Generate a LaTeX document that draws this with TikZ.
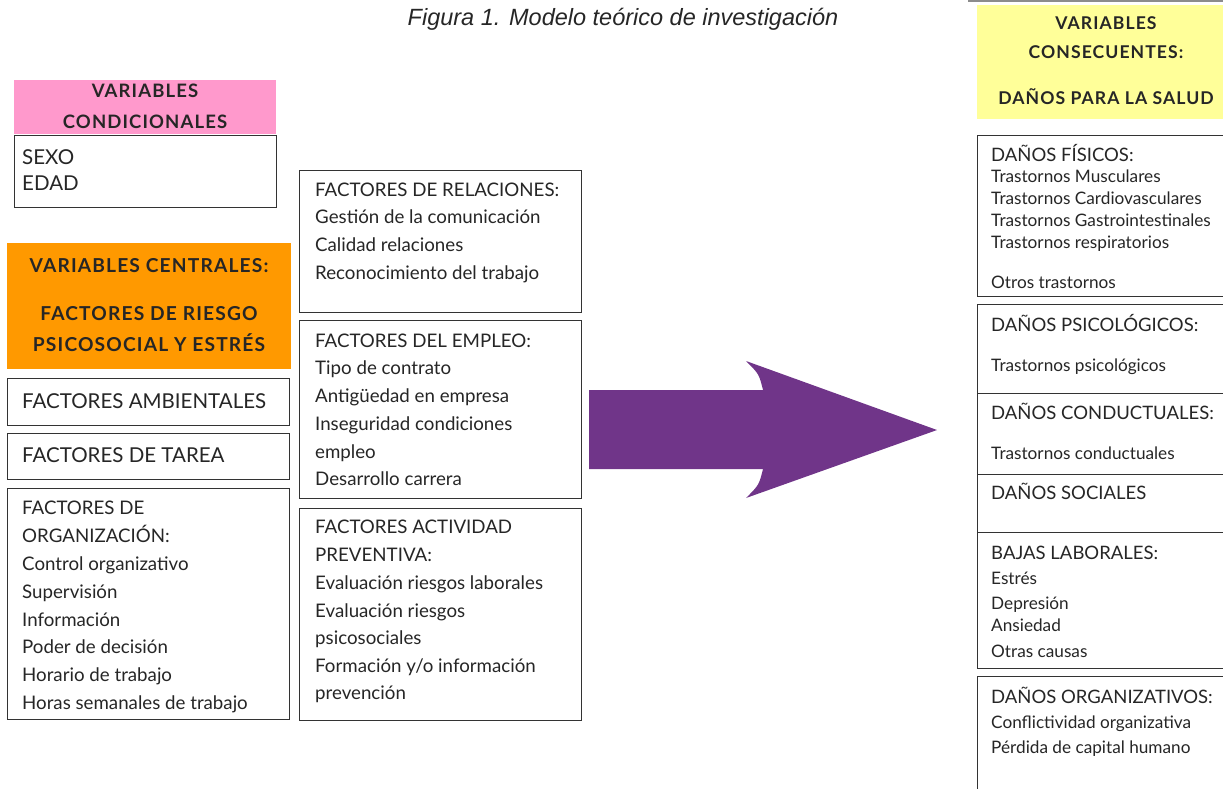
\documentclass[tikz,border=0pt]{standalone}
\usepackage{fontspec}
\setmainfont{Lato}
\newfontfamily\titlefont{Liberation Sans}
\newfontfamily\headfont[LetterSpace=6]{Lato}
\definecolor{boxline}{HTML}{333333}
\definecolor{pinkhead}{HTML}{FF99CC}
\definecolor{orangehead}{HTML}{FF9900}
\definecolor{yellowhead}{HTML}{FFFF99}
\definecolor{arrowpurple}{HTML}{703589}
\tikzset{
  frame/.style={draw=boxline, line width=1.2pt, fill=white, anchor=north west, inner sep=0pt},
  head/.style={anchor=north west, inner sep=0pt, draw=none},
  txt/.style={anchor=base west, inner sep=0pt, font=\fontsize{18.7}{22}\selectfont, text=black!85},
  bigtxt/.style={anchor=base west, inner sep=0pt, font=\fontsize{20.5}{24}\selectfont, text=black!85},
  smalltxt/.style={anchor=base west, inner sep=0pt, font=\fontsize{17.2}{20}\selectfont, text=black!85},
  smallcap/.style={anchor=base west, inner sep=0pt, font=\fontsize{18.5}{22}\selectfont, text=black!85},
  headtxt/.style={anchor=base, inner sep=0pt, font=\headfont\bfseries\fontsize{#1}{21}\selectfont, text=black!85},
  headtxt/.default=18.5,
}
\begin{document}
\begin{tikzpicture}[x=1pt,y=-1pt]
\useasboundingbox (0,0) rectangle (1223,788);
\clip (0,0) rectangle (1223,788);

% title
\node[anchor=base, inner sep=0pt, font=\titlefont\itshape\fontsize{23.5}{27}\selectfont, text=black!85] (title) at (623,25) {Figura 1. Modelo teórico de investigación};

% ---------------- left column ----------------
\node[head, fill=pinkhead, minimum width=262pt, minimum height=54pt] (condhead) at (14,80) {};
\node[headtxt] (condh1) at (145,97) {VARIABLES};
\node[headtxt] (condh2) at (145,128) {CONDICIONALES};
\node[frame, minimum width=262pt, minimum height=72pt] (condbox) at (14,135) {};
\node[bigtxt] (sexo) at (22,164) {SEXO};
\node[bigtxt] (edad) at (22,190) {EDAD};

\node[head, fill=orangehead, minimum width=284pt, minimum height=126pt] (centhead) at (7,243) {};
\node[headtxt=19.2] (centh1) at (149,272) {VARIABLES CENTRALES:};
\node[headtxt=19.2] (centh2) at (149,320) {FACTORES DE RIESGO};
\node[headtxt=19.2] (centh3) at (149,351) {PSICOSOCIAL Y ESTRÉS};

\node[frame, minimum width=282pt, minimum height=47pt] (ambbox) at (7,378) {};
\node[bigtxt] (amb) at (22,408) {FACTORES AMBIENTALES};
\node[frame, minimum width=282pt, minimum height=46pt] (tarbox) at (7,433) {};
\node[bigtxt] (tar) at (22,462) {FACTORES DE TAREA};

\node[frame, minimum width=282pt, minimum height=231pt] (orgbox) at (7,488) {};
\foreach \t/\y [count=\i] in {FACTORES DE/514, ORGANIZACIÓN:/542, Control organizativo/570,
  Supervisión/598, Información/626, Poder de decisión/653, Horario de trabajo/681,
  Horas semanales de trabajo/709}
  \node[txt] (org\i) at (22,\y) {\t};

% ---------------- middle column ----------------
\node[frame, minimum width=282pt, minimum height=142pt] (relbox) at (299,170) {};
\foreach \t/\y [count=\i] in {FACTORES DE RELACIONES:/196, Gestión de la comunicación/223,
  Calidad relaciones/251, Reconocimiento del trabajo/279}
  \node[txt] (rel\i) at (315,\y) {\t};

\node[frame, minimum width=282pt, minimum height=178pt] (empbox) at (299,320) {};
\foreach \t/\y [count=\i] in {FACTORES DEL EMPLEO:/347, Tipo de contrato/374,
  Antigüedad en empresa/402, Inseguridad condiciones/430, empleo/458, Desarrollo carrera/485}
  \node[txt] (emp\i) at (315,\y) {\t};

\node[frame, minimum width=282pt, minimum height=212pt] (prevbox) at (299,508) {};
\foreach \t/\y [count=\i] in {FACTORES ACTIVIDAD/533, PREVENTIVA:/561,
  Evaluación riesgos laborales/589, Evaluación riesgos/617, psicosociales/644}
  \node[txt] (prev\i) at (315,\y) {\t};
\node[txt] (prev6) at (315,672) {Formación y/o información};
\node[txt] (prev7) at (315,699) {prevención};

% ---------------- arrow ----------------
\coordinate (arrtail) at (589,430);
\coordinate (arrtip) at (937,430);
\fill[arrowpurple] (arrtail |- 0,390) -- (763,390)
  .. controls (759,374) .. (746,361) -- (arrtip) -- (746,498)
  .. controls (759,485) .. (763,469) -- (arrtail |- 0,469) -- cycle;

% ---------------- right column ----------------
\draw[black!45, line width=1.2pt] (968,1) -- (1230,1);
\node[head, fill=yellowhead, minimum width=250pt, minimum height=114pt] (conshead) at (977,5) {};
\node[headtxt=17.6] (consh1) at (1106,29) {VARIABLES};
\node[headtxt=17.6] (consh2) at (1106,58) {CONSECUENTES:};
\node[headtxt=17.6] (consh3) at (1106,104) {DAÑOS PARA LA SALUD};

\node[frame, minimum width=260pt, minimum height=161pt] (fisbox) at (977,135) {};
\node[smallcap] (fis0) at (991,161) {DAÑOS FÍSICOS:};
\foreach \t/\y [count=\i] in {Trastornos Musculares/182, Trastornos Cardiovasculares/204,
  Trastornos Gastrointestinales/226, Trastornos respiratorios/248, Otros trastornos/288}
  \node[smalltxt] (fis\i) at (991,\y) {\t};

\node[frame, minimum width=260pt, minimum height=89pt] (psibox) at (977,304) {};
\node[smallcap] (psi0) at (991,331) {DAÑOS PSICOLÓGICOS:};
\node[smalltxt] (psi1) at (991,371) {Trastornos psicológicos};

\node[frame, minimum width=260pt, minimum height=81pt] (conbox) at (977,393) {};
\node[smallcap] (con0) at (991,419) {DAÑOS CONDUCTUALES:};
\node[smalltxt] (con1) at (991,459) {Trastornos conductuales};

\node[frame, minimum width=260pt, minimum height=58pt] (socbox) at (977,474) {};
\node[smallcap] (soc0) at (991,499) {DAÑOS SOCIALES};

\node[frame, minimum width=260pt, minimum height=136pt] (bajbox) at (977,532) {};
\node[smallcap] (baj0) at (991,559) {BAJAS LABORALES:};
\foreach \t/\y [count=\i] in {Estrés/584, Depresión/609, Ansiedad/631, Otras causas/657}
  \node[smalltxt] (baj\i) at (991,\y) {\t};

\node[frame, minimum width=260pt, minimum height=130pt] (orgdbox) at (977,676) {};
\node[smallcap] (orgd0) at (991,703) {DAÑOS ORGANIZATIVOS:};
\node[smalltxt] (orgd1) at (991,728) {Conflictividad organizativa};
\node[smalltxt] (orgd2) at (991,753) {Pérdida de capital humano};
\end{tikzpicture}
\end{document}
